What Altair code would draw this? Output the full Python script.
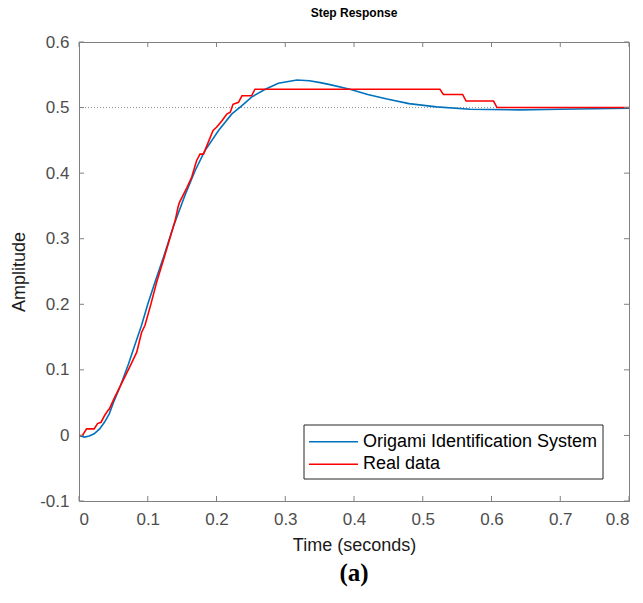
import altair as alt
import pandas as pd

# ---- data ----
blue_t = [0.0, 0.008, 0.015, 0.022, 0.030, 0.037, 0.044, 0.050, 0.060, 0.072, 0.080, 0.091,
          0.100, 0.110, 0.123, 0.137, 0.154, 0.169, 0.183, 0.203, 0.222, 0.237, 0.251, 0.271,
          0.290, 0.317, 0.335, 0.351, 0.365, 0.394, 0.420, 0.448, 0.480, 0.520, 0.569, 0.641,
          0.700, 0.800]
blue_v = [0.0, -0.0025, -0.001, 0.0025, 0.010, 0.020, 0.033, 0.050, 0.075, 0.109, 0.134, 0.168,
          0.200, 0.232, 0.272, 0.318, 0.366, 0.404, 0.434, 0.465, 0.490, 0.503, 0.516, 0.528,
          0.537, 0.542, 0.541, 0.538, 0.535, 0.528, 0.520, 0.513, 0.506, 0.501, 0.4975, 0.4965,
          0.4975, 0.499]

red_t = [0.0, 0.005, 0.011, 0.022, 0.027, 0.032, 0.037, 0.042, 0.044, 0.051, 0.074, 0.084,
         0.091, 0.096, 0.104, 0.113, 0.125, 0.132, 0.140, 0.144, 0.146, 0.157, 0.164, 0.171,
         0.176, 0.181, 0.195, 0.200, 0.208, 0.215, 0.220, 0.224, 0.232, 0.237, 0.251, 0.256,
         0.525, 0.530, 0.558, 0.563, 0.603, 0.608, 0.800]
red_v = [0.0, 0.0, 0.010, 0.010, 0.018, 0.020, 0.030, 0.038, 0.040, 0.056, 0.105, 0.127,
         0.157, 0.168, 0.198, 0.234, 0.275, 0.300, 0.328, 0.348, 0.355, 0.378, 0.394, 0.419,
         0.429, 0.429, 0.465, 0.470, 0.480, 0.490, 0.493, 0.505, 0.508, 0.518, 0.518, 0.528,
         0.528, 0.520, 0.520, 0.510, 0.510, 0.500, 0.500]

series_names = ["Origami Identification System", "Real data"]
series_colors = ["#0072BD", "#FF0000"]
x_ticks = [0.0, 0.1, 0.2, 0.3, 0.4, 0.5, 0.6, 0.7, 0.8]
y_ticks = [-0.1, 0.0, 0.1, 0.2, 0.3, 0.4, 0.5, 0.6]
ref_level = [0.5]
chart_title = "Step Response"
panel_label = "(a)"

W, H = 550, 459
FONT = "Liberation Sans"
AXC = "#808080"

df = pd.concat([
    pd.DataFrame({"t": blue_t, "v": blue_v, "series": series_names[0]}),
    pd.DataFrame({"t": red_t, "v": red_v, "series": series_names[1]}),
], ignore_index=True)

xs = alt.Scale(domain=[0, 0.8], nice=False, zero=False)
ys = alt.Scale(domain=[-0.1, 0.6], nice=False, zero=False)

lab = "datum.value < 0 ? '-' + format(-datum.value, '.1f') : (datum.value == 0 ? '0' : format(datum.value, '.1f'))"

x_axis = alt.Axis(values=x_ticks, labelExpr=lab, ticks=False, grid=False, labelPadding=10,
                  titlePadding=9, domainColor=AXC)
y_axis = alt.Axis(values=y_ticks, labelExpr=lab, ticks=False, grid=False, labelPadding=10,
                  titlePadding=11, domainColor=AXC)

lines = alt.Chart(df).mark_line(strokeWidth=1.6, clip=True).encode(
    x=alt.X("t:Q", scale=xs, axis=x_axis, title="Time (seconds)"),
    y=alt.Y("v:Q", scale=ys, axis=y_axis, title="Amplitude"),
    color=alt.Color("series:N", scale=alt.Scale(domain=series_names, range=series_colors), legend=None),
)

ref = alt.Chart(pd.DataFrame({"y": ref_level})).mark_rule(
    color="#8c8c8c", strokeDash=[1, 2], strokeWidth=1
).encode(y=alt.Y("y:Q", scale=ys), x=alt.value(0), x2=alt.value(W))

xt = pd.DataFrame({"t": x_ticks})
yt = pd.DataFrame({"v": y_ticks})
tick_b = alt.Chart(xt).mark_rule(color=AXC).encode(x=alt.X("t:Q", scale=xs), y=alt.value(H), y2=alt.value(H - 5))
tick_t = alt.Chart(xt).mark_rule(color=AXC).encode(x=alt.X("t:Q", scale=xs), y=alt.value(0), y2=alt.value(5))
tick_l = alt.Chart(yt).mark_rule(color=AXC).encode(y=alt.Y("v:Q", scale=ys), x=alt.value(0), x2=alt.value(5))
tick_r = alt.Chart(yt).mark_rule(color=AXC).encode(y=alt.Y("v:Q", scale=ys), x=alt.value(W), x2=alt.value(W - 5))

one = pd.DataFrame({"a": [0]})
lx0, ly0, lx1, ly1 = 225, 383, 524, 437
box = alt.Chart(one).mark_rect(fill="white", stroke="#262626", strokeWidth=1).encode(
    x=alt.value(lx0), x2=alt.value(lx1), y=alt.value(ly0), y2=alt.value(ly1))
rows = [399.7, 422.3]
leg = []
for name, col, ry in zip(series_names, series_colors, rows):
    leg.append(alt.Chart(one).mark_rule(color=col, strokeWidth=1.6).encode(
        x=alt.value(lx0 + 5), x2=alt.value(lx0 + 54), y=alt.value(ry)))
    leg.append(alt.Chart(one).mark_text(text=name, align="left", baseline="middle", font=FONT,
                                        fontSize=18, color="#000000").encode(
        x=alt.value(lx0 + 59), y=alt.value(ry)))

title_txt = alt.Chart(one).mark_text(text=chart_title, align="center", baseline="middle",
                                     font=FONT, fontWeight="bold", fontSize=12,
                                     color="#000000").encode(x=alt.value(W / 2), y=alt.value(-29))

plabel = alt.Chart(one).mark_text(text=panel_label, align="center", baseline="middle",
                                  font="Liberation Serif", fontWeight="bold", fontSize=25,
                                  color="#000000").encode(x=alt.value(W / 2), y=alt.value(531))

chart = alt.layer(ref, lines, tick_b, tick_t, tick_l, tick_r, box, *leg, title_txt, plabel).properties(
    width=W, height=H,
    padding={"left": 79, "top": 42, "right": 14, "bottom": 102},
    autosize=alt.AutoSizeParams(type="none"),
    background="white",
).configure_view(stroke=AXC, strokeWidth=1).configure_axis(
    labelFont=FONT, labelFontSize=17, labelColor="#4d4d4d",
    titleFont=FONT, titleFontSize=18, titleColor="#1a1a1a", titleFontWeight="normal",
    domainColor=AXC,
)

chart.save("out.html", embed_options={"renderer": "svg", "actions": False})
